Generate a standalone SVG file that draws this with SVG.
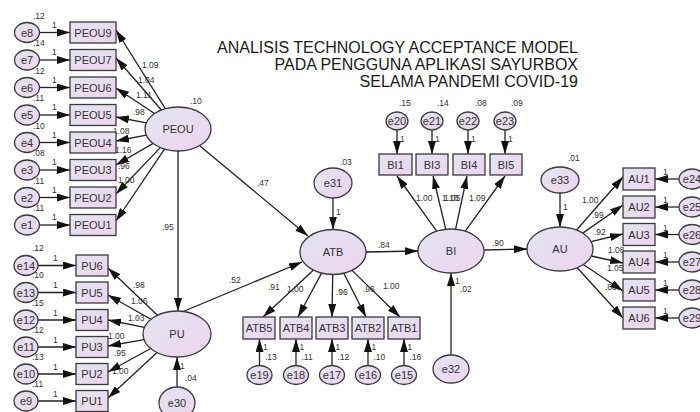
<svg xmlns="http://www.w3.org/2000/svg" width="700" height="412" viewBox="0 0 700 412">
<defs>
<linearGradient id="g" x1="0" y1="0" x2="1" y2="1">
<stop offset="0" stop-color="#e2e5f1"/>
<stop offset="1" stop-color="#eed4ef"/>
</linearGradient>
<marker id="a" markerWidth="13" markerHeight="8" refX="13" refY="4" orient="auto" markerUnits="userSpaceOnUse">
<path d="M0,0 L13,4 L0,8 z" fill="#111"/>
</marker>
<style>
.n{fill:url(#g);stroke:#3a3a3a;stroke-width:1.3}
text{font-family:"Liberation Sans",Arial,sans-serif;fill:#333}
.t{font-size:11px;text-anchor:middle}
.s{font-size:8.5px}
.c{stroke:#222;stroke-width:1.3;fill:none;marker-end:url(#a)}
.ti{font-size:16px;text-anchor:end;fill:#1a1a1a}
</style>
</defs>
<rect width="700" height="412" fill="#fff"/>
<g id="title">
<text class="ti" x="578" y="53">ANALISIS TECHNOLOGY ACCEPTANCE MODEL</text>
<text class="ti" x="578" y="70">PADA PENGGUNA APLIKASI SAYURBOX</text>
<text class="ti" x="578" y="87">SELAMA PANDEMI COVID-19</text>
</g>
<g id="connectors">
<line class="c" x1="39.5" y1="32.5" x2="70" y2="32.5"/>
<line class="c" x1="39.5" y1="60" x2="70" y2="60"/>
<line class="c" x1="39.5" y1="87.5" x2="70" y2="87.5"/>
<line class="c" x1="39.5" y1="115" x2="70" y2="115"/>
<line class="c" x1="39.5" y1="142.5" x2="70" y2="142.5"/>
<line class="c" x1="39.5" y1="170" x2="70" y2="170"/>
<line class="c" x1="39.5" y1="197.5" x2="70" y2="197.5"/>
<line class="c" x1="39.5" y1="225" x2="70" y2="225"/>
<line class="c" x1="165.3" y1="108.7" x2="116" y2="30"/>
<line class="c" x1="161.4" y1="110" x2="116" y2="58"/>
<line class="c" x1="154.6" y1="113.5" x2="116" y2="88"/>
<line class="c" x1="146.3" y1="122.9" x2="116" y2="117"/>
<line class="c" x1="146.3" y1="135.1" x2="116" y2="141"/>
<line class="c" x1="153.1" y1="143.4" x2="116" y2="165"/>
<line class="c" x1="160.3" y1="147.6" x2="116" y2="194"/>
<line class="c" x1="164.5" y1="149.1" x2="116" y2="221"/>
<line class="c" x1="38" y1="265.5" x2="76" y2="265.5"/>
<line class="c" x1="38" y1="292.5" x2="76" y2="292.5"/>
<line class="c" x1="38" y1="320" x2="76" y2="320"/>
<line class="c" x1="38" y1="347" x2="76" y2="347"/>
<line class="c" x1="38" y1="374" x2="76" y2="374"/>
<line class="c" x1="38" y1="401" x2="76" y2="401"/>
<line class="c" x1="157.4" y1="315.2" x2="108" y2="268"/>
<line class="c" x1="150.9" y1="319.3" x2="108" y2="295"/>
<line class="c" x1="144.4" y1="327.4" x2="108" y2="320"/>
<line class="c" x1="144.1" y1="339.7" x2="108" y2="346"/>
<line class="c" x1="150.6" y1="348.5" x2="108" y2="372"/>
<line class="c" x1="157" y1="352.6" x2="108" y2="398"/>
<line class="c" x1="178" y1="151" x2="178" y2="311"/>
<line class="c" x1="200" y1="146" x2="308" y2="236"/>
<line class="c" x1="182" y1="312" x2="302" y2="262"/>
<line class="c" x1="177" y1="387" x2="177" y2="357"/>
<line class="c" x1="333" y1="198" x2="333" y2="229.5"/>
<line class="c" x1="366" y1="252" x2="418" y2="251"/>
<line class="c" x1="451" y1="355" x2="451" y2="273"/>
<line class="c" x1="484" y1="250" x2="527" y2="249"/>
<line class="c" x1="560" y1="193" x2="560" y2="227"/>
<line class="c" x1="313.5" y1="270.1" x2="263" y2="317"/>
<line class="c" x1="321.6" y1="273.1" x2="298" y2="317"/>
<line class="c" x1="332.7" y1="274.5" x2="332" y2="317"/>
<line class="c" x1="343.8" y1="273.3" x2="366" y2="317"/>
<line class="c" x1="352" y1="270.4" x2="400" y2="317"/>
<line class="c" x1="259.5" y1="366" x2="259.5" y2="339"/>
<line class="c" x1="296" y1="366" x2="296" y2="339"/>
<line class="c" x1="332" y1="366" x2="332" y2="339"/>
<line class="c" x1="368" y1="366" x2="368" y2="339"/>
<line class="c" x1="404" y1="366" x2="404" y2="339"/>
<line class="c" x1="436.7" y1="231.2" x2="397" y2="176"/>
<line class="c" x1="445.8" y1="229.3" x2="433" y2="176"/>
<line class="c" x1="455.6" y1="229.2" x2="467" y2="176"/>
<line class="c" x1="465.3" y1="231.2" x2="505" y2="176"/>
<line class="c" x1="397" y1="130" x2="397" y2="154"/>
<line class="c" x1="432" y1="130" x2="432" y2="154"/>
<line class="c" x1="468" y1="130" x2="468" y2="154"/>
<line class="c" x1="505" y1="130" x2="505" y2="154"/>
<line class="c" x1="576.6" y1="230" x2="623" y2="177"/>
<line class="c" x1="582.8" y1="233.1" x2="623" y2="205"/>
<line class="c" x1="591.1" y1="241.6" x2="623" y2="234"/>
<line class="c" x1="591.3" y1="256" x2="623" y2="263"/>
<line class="c" x1="583.3" y1="264.5" x2="623" y2="291"/>
<line class="c" x1="577.2" y1="267.8" x2="623" y2="318"/>
<line class="c" x1="679" y1="179" x2="655" y2="179"/>
<line class="c" x1="679" y1="207" x2="655" y2="207"/>
<line class="c" x1="679" y1="234.5" x2="655" y2="234.5"/>
<line class="c" x1="679" y1="262" x2="655" y2="262"/>
<line class="c" x1="679" y1="290" x2="655" y2="290"/>
<line class="c" x1="679" y1="318" x2="655" y2="318"/>
</g>
<g id="labels">
<text class="s" x="142" y="68">1.09</text>
<text class="s" x="138" y="83">1.04</text>
<text class="s" x="136" y="98">1.11</text>
<text class="s" x="133" y="115">.98</text>
<text class="s" x="113" y="134">1.08</text>
<text class="s" x="115" y="153">1.16</text>
<text class="s" x="118" y="169">.96</text>
<text class="s" x="118" y="183">1.00</text>
<text class="s" x="133" y="288">.98</text>
<text class="s" x="131" y="304">1.06</text>
<text class="s" x="128" y="321">1.03</text>
<text class="s" x="108" y="339">1.00</text>
<text class="s" x="114" y="356">.95</text>
<text class="s" x="112" y="374">1.00</text>
<text class="s" x="268" y="290">.91</text>
<text class="s" x="287" y="292">1.00</text>
<text class="s" x="336" y="295">.96</text>
<text class="s" x="363" y="292">.96</text>
<text class="s" x="383" y="289">1.00</text>
<text class="s" x="416" y="201">1.00</text>
<text class="s" x="442" y="201">1.10</text>
<text class="s" x="444" y="201">1.05</text>
<text class="s" x="469" y="201">1.09</text>
<text class="s" x="582" y="203">1.00</text>
<text class="s" x="592" y="218">.99</text>
<text class="s" x="594" y="235">.92</text>
<text class="s" x="608" y="253">1.08</text>
<text class="s" x="607" y="271">1.05</text>
<text class="s" x="605" y="290">.88</text>
<text class="s" x="378" y="248">.84</text>
<text class="s" x="492" y="246">.90</text>
<text class="s" x="257" y="186">.47</text>
<text class="s" x="229" y="283">.52</text>
<text class="s" x="162" y="230">.95</text>
<text class="s" x="190" y="104">.10</text>
<text class="s" x="185" y="381">.04</text>
<text class="s" x="180" y="369">1</text>
<text class="s" x="340" y="165">.03</text>
<text class="s" x="336" y="215">1</text>
<text class="s" x="460" y="292">.02</text>
<text class="s" x="455" y="284">1</text>
<text class="s" x="568" y="161">.01</text>
<text class="s" x="563" y="210">1</text>
</g>
<g id="PEOU"><ellipse class="n" cx="178" cy="129" rx="33" ry="22"/><text class="t" x="178" y="133">PEOU</text></g>
<g id="PU"><ellipse class="n" cx="177" cy="334" rx="34" ry="23"/><text class="t" x="177" y="338">PU</text></g>
<g id="ATB"><ellipse class="n" cx="333" cy="252" rx="33" ry="22.5"/><text class="t" x="333" y="256">ATB</text></g>
<g id="BI"><ellipse class="n" cx="451" cy="251" rx="33" ry="22"/><text class="t" x="451" y="255">BI</text></g>
<g id="AU"><ellipse class="n" cx="560" cy="249" rx="33" ry="22"/><text class="t" x="560" y="253">AU</text></g>
<g id="e30"><ellipse class="n" cx="177" cy="403" rx="18" ry="16"/><text class="t" x="177" y="407">e30</text></g>
<g id="e31"><ellipse class="n" cx="333" cy="183" rx="19" ry="15"/><text class="t" x="333" y="187">e31</text></g>
<g id="e32"><ellipse class="n" cx="451" cy="369" rx="18" ry="14"/><text class="t" x="451" y="373">e32</text></g>
<g id="e33"><ellipse class="n" cx="560" cy="180" rx="19" ry="13"/><text class="t" x="560" y="184">e33</text></g>
<g id="PEOU9"><rect class="n" x="70" y="22" width="46" height="21"/><text class="t" x="93" y="36.5">PEOU9</text></g>
<g id="PEOU7"><rect class="n" x="70" y="49.5" width="46" height="21"/><text class="t" x="93" y="64">PEOU7</text></g>
<g id="PEOU6"><rect class="n" x="70" y="77" width="46" height="21"/><text class="t" x="93" y="91.5">PEOU6</text></g>
<g id="PEOU5"><rect class="n" x="70" y="104.5" width="46" height="21"/><text class="t" x="93" y="119">PEOU5</text></g>
<g id="PEOU4"><rect class="n" x="70" y="132" width="46" height="21"/><text class="t" x="93" y="146.5">PEOU4</text></g>
<g id="PEOU3"><rect class="n" x="70" y="159.5" width="46" height="21"/><text class="t" x="93" y="174">PEOU3</text></g>
<g id="PEOU2"><rect class="n" x="70" y="187" width="46" height="21"/><text class="t" x="93" y="201.5">PEOU2</text></g>
<g id="PEOU1"><rect class="n" x="70" y="214.5" width="46" height="21"/><text class="t" x="93" y="229">PEOU1</text></g>
<g id="e8"><ellipse class="n" cx="27" cy="32.5" rx="12.5" ry="10"/><text class="t" x="27" y="36.5">e8</text><text class="s" x="33" y="19">.12</text><text class="s" x="52" y="28">1</text></g>
<g id="e7"><ellipse class="n" cx="27" cy="60" rx="12.5" ry="10"/><text class="t" x="27" y="64">e7</text><text class="s" x="33" y="46">.14</text><text class="s" x="52" y="55">1</text></g>
<g id="e6"><ellipse class="n" cx="27" cy="87.5" rx="12.5" ry="10"/><text class="t" x="27" y="91.5">e6</text><text class="s" x="33" y="73.5">.12</text><text class="s" x="52" y="82.5">1</text></g>
<g id="e5"><ellipse class="n" cx="27" cy="115" rx="12.5" ry="10"/><text class="t" x="27" y="119">e5</text><text class="s" x="33" y="101">.11</text><text class="s" x="52" y="110">1</text></g>
<g id="e4"><ellipse class="n" cx="27" cy="142.5" rx="12.5" ry="10"/><text class="t" x="27" y="146.5">e4</text><text class="s" x="33" y="128.5">.10</text><text class="s" x="52" y="137.5">1</text></g>
<g id="e3"><ellipse class="n" cx="27" cy="170" rx="12.5" ry="10"/><text class="t" x="27" y="174">e3</text><text class="s" x="33" y="156">.08</text><text class="s" x="52" y="165">1</text></g>
<g id="e2"><ellipse class="n" cx="27" cy="197.5" rx="12.5" ry="10"/><text class="t" x="27" y="201.5">e2</text><text class="s" x="33" y="183.5">.11</text><text class="s" x="52" y="192.5">1</text></g>
<g id="e1"><ellipse class="n" cx="27" cy="225" rx="12.5" ry="10"/><text class="t" x="27" y="229">e1</text><text class="s" x="33" y="211">.11</text><text class="s" x="52" y="220">1</text></g>
<g id="PU6"><rect class="n" x="76" y="255" width="32" height="21"/><text class="t" x="92" y="269.5">PU6</text></g>
<g id="PU5"><rect class="n" x="76" y="282" width="32" height="21"/><text class="t" x="92" y="296.5">PU5</text></g>
<g id="PU4"><rect class="n" x="76" y="309.5" width="32" height="21"/><text class="t" x="92" y="324">PU4</text></g>
<g id="PU3"><rect class="n" x="76" y="336.5" width="32" height="21"/><text class="t" x="92" y="351">PU3</text></g>
<g id="PU2"><rect class="n" x="76" y="363.5" width="32" height="21"/><text class="t" x="92" y="378">PU2</text></g>
<g id="PU1"><rect class="n" x="76" y="390.5" width="32" height="21"/><text class="t" x="92" y="405">PU1</text></g>
<g id="e14"><ellipse class="n" cx="26" cy="265.5" rx="12" ry="10"/><text class="t" x="26" y="269.5">e14</text><text class="s" x="32" y="251">.12</text><text class="s" x="53" y="261">1</text></g>
<g id="e13"><ellipse class="n" cx="26" cy="292.5" rx="12" ry="10"/><text class="t" x="26" y="296.5">e13</text><text class="s" x="32" y="278">.10</text><text class="s" x="53" y="288">1</text></g>
<g id="e12"><ellipse class="n" cx="26" cy="320" rx="12" ry="10"/><text class="t" x="26" y="324">e12</text><text class="s" x="32" y="305.5">.15</text><text class="s" x="53" y="315.5">1</text></g>
<g id="e11"><ellipse class="n" cx="26" cy="347" rx="12" ry="10"/><text class="t" x="26" y="351">e11</text><text class="s" x="32" y="332.5">.12</text><text class="s" x="53" y="342.5">1</text></g>
<g id="e10"><ellipse class="n" cx="26" cy="374" rx="12" ry="10"/><text class="t" x="26" y="378">e10</text><text class="s" x="32" y="359.5">.13</text><text class="s" x="53" y="369.5">1</text></g>
<g id="e9"><ellipse class="n" cx="26" cy="401" rx="12" ry="10"/><text class="t" x="26" y="405">e9</text><text class="s" x="32" y="386.5">.11</text><text class="s" x="53" y="396.5">1</text></g>
<g id="ATB5"><rect class="n" x="243" y="317" width="32" height="22"/><text class="t" x="259" y="332">ATB5</text></g>
<g id="ATB4"><rect class="n" x="280" y="317" width="32" height="22"/><text class="t" x="296" y="332">ATB4</text></g>
<g id="ATB3"><rect class="n" x="316" y="317" width="32" height="22"/><text class="t" x="332" y="332">ATB3</text></g>
<g id="ATB2"><rect class="n" x="352" y="317" width="32" height="22"/><text class="t" x="368" y="332">ATB2</text></g>
<g id="ATB1"><rect class="n" x="388" y="317" width="32" height="22"/><text class="t" x="404" y="332">ATB1</text></g>
<g id="e19"><ellipse class="n" cx="259.5" cy="375" rx="12.5" ry="9.5"/><text class="t" x="259.5" y="379">e19</text><text class="s" x="263" y="350">1</text><text class="s" x="265" y="360">.13</text></g>
<g id="e18"><ellipse class="n" cx="296" cy="375" rx="12.5" ry="9.5"/><text class="t" x="296" y="379">e18</text><text class="s" x="299.5" y="350">1</text><text class="s" x="301.5" y="360">.11</text></g>
<g id="e17"><ellipse class="n" cx="332" cy="375" rx="12.5" ry="9.5"/><text class="t" x="332" y="379">e17</text><text class="s" x="335.5" y="350">1</text><text class="s" x="337.5" y="360">.12</text></g>
<g id="e16"><ellipse class="n" cx="368" cy="375" rx="12.5" ry="9.5"/><text class="t" x="368" y="379">e16</text><text class="s" x="371.5" y="350">1</text><text class="s" x="373.5" y="360">.10</text></g>
<g id="e15"><ellipse class="n" cx="404" cy="375" rx="12.5" ry="9.5"/><text class="t" x="404" y="379">e15</text><text class="s" x="407.5" y="350">1</text><text class="s" x="409.5" y="360">.16</text></g>
<g id="BI1"><rect class="n" x="379" y="154" width="33" height="21"/><text class="t" x="395.5" y="168.5">BI1</text></g>
<g id="BI3"><rect class="n" x="416" y="154" width="32" height="21"/><text class="t" x="432" y="168.5">BI3</text></g>
<g id="BI4"><rect class="n" x="453" y="154" width="32" height="21"/><text class="t" x="469" y="168.5">BI4</text></g>
<g id="BI5"><rect class="n" x="490" y="154" width="32" height="21"/><text class="t" x="506" y="168.5">BI5</text></g>
<g id="e20"><ellipse class="n" cx="397" cy="121" rx="11" ry="9"/><text class="t" x="397" y="125">e20</text><text class="s" x="399" y="106">.15</text><text class="s" x="400" y="142">1</text></g>
<g id="e21"><ellipse class="n" cx="432" cy="121" rx="11" ry="9"/><text class="t" x="432" y="125">e21</text><text class="s" x="437" y="106">.14</text><text class="s" x="435" y="142">1</text></g>
<g id="e22"><ellipse class="n" cx="468" cy="121" rx="11" ry="9"/><text class="t" x="468" y="125">e22</text><text class="s" x="475" y="106">.08</text><text class="s" x="471" y="142">1</text></g>
<g id="e23"><ellipse class="n" cx="505" cy="121" rx="11" ry="9"/><text class="t" x="505" y="125">e23</text><text class="s" x="511" y="106">.09</text><text class="s" x="508" y="142">1</text></g>
<g id="AU1"><rect class="n" x="623" y="168" width="32" height="22"/><text class="t" x="639" y="183">AU1</text></g>
<g id="AU2"><rect class="n" x="623" y="196" width="32" height="22"/><text class="t" x="639" y="211">AU2</text></g>
<g id="AU3"><rect class="n" x="623" y="223.5" width="32" height="22"/><text class="t" x="639" y="238.5">AU3</text></g>
<g id="AU4"><rect class="n" x="623" y="251" width="32" height="22"/><text class="t" x="639" y="266">AU4</text></g>
<g id="AU5"><rect class="n" x="623" y="279" width="32" height="22"/><text class="t" x="639" y="294">AU5</text></g>
<g id="AU6"><rect class="n" x="623" y="307" width="32" height="22"/><text class="t" x="639" y="322">AU6</text></g>
<g id="e24"><ellipse class="n" cx="692" cy="179" rx="13" ry="10"/><text class="t" x="692" y="183">e24</text><text class="s" x="663" y="175">1</text></g>
<g id="e25"><ellipse class="n" cx="692" cy="207" rx="13" ry="10"/><text class="t" x="692" y="211">e25</text><text class="s" x="663" y="203">1</text></g>
<g id="e26"><ellipse class="n" cx="692" cy="234.5" rx="13" ry="10"/><text class="t" x="692" y="238.5">e26</text><text class="s" x="663" y="230.5">1</text></g>
<g id="e27"><ellipse class="n" cx="692" cy="262" rx="13" ry="10"/><text class="t" x="692" y="266">e27</text><text class="s" x="663" y="258">1</text></g>
<g id="e28"><ellipse class="n" cx="692" cy="290" rx="13" ry="10"/><text class="t" x="692" y="294">e28</text><text class="s" x="663" y="286">1</text></g>
<g id="e29"><ellipse class="n" cx="692" cy="318" rx="13" ry="10"/><text class="t" x="692" y="322">e29</text><text class="s" x="663" y="314">1</text></g>
</svg>
